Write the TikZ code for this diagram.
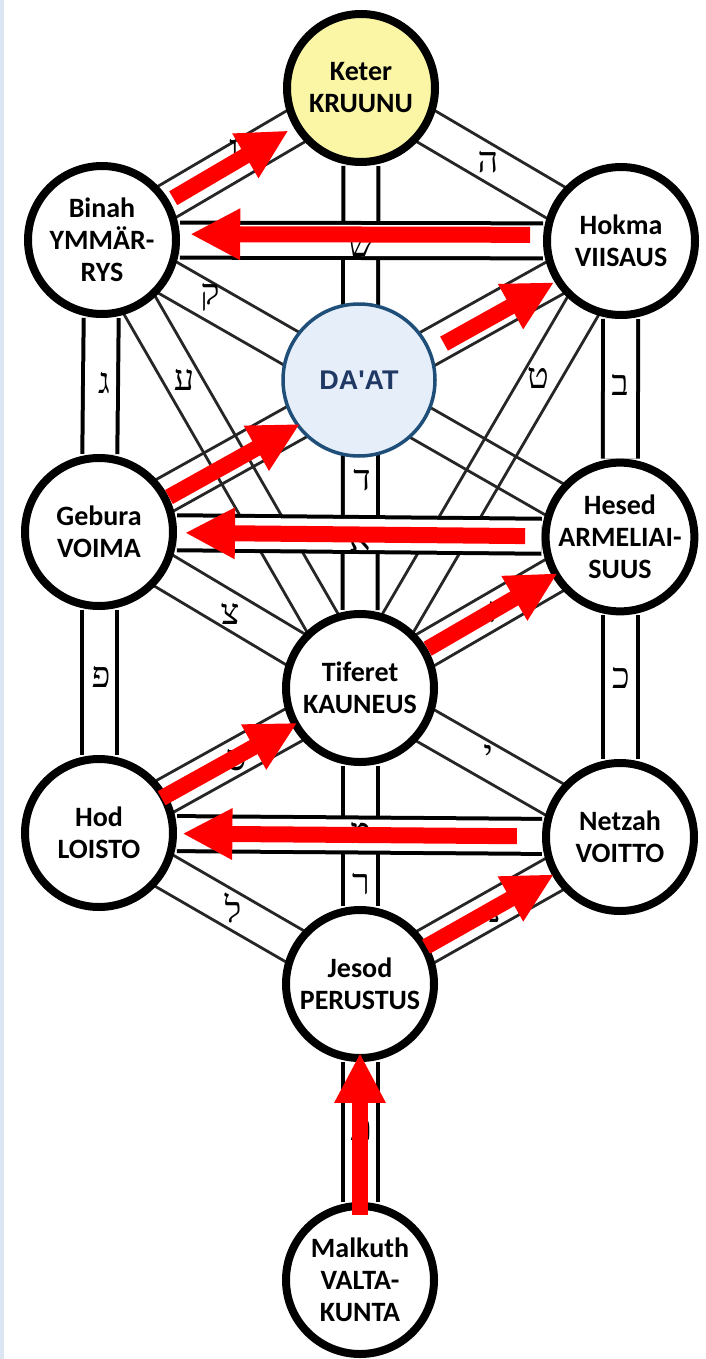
\documentclass[tikz,border=0pt]{standalone}
\usepackage{fontspec}
\setmainfont{Carlito}
\newfontfamily\hebfont[Script=Hebrew]{Liberation Serif}
\newfontfamily\daatfont{Liberation Sans}
\usetikzlibrary{arrows.meta,calc,backgrounds}

\definecolor{keteryellow}{HTML}{FAF6A6}
\definecolor{daatfill}{HTML}{E5EEF9}
\definecolor{daatline}{HTML}{1F4E79}
\definecolor{daattext}{HTML}{203864}
\definecolor{stripblue}{HTML}{DCE6F2}

\begin{document}
\begin{tikzpicture}[x=1pt,y=-1pt,
    sephira/.style={draw,circle,line width=8pt,fill=white,minimum size=148pt,inner sep=0pt,align=center,font=\fontsize{28}{32}\selectfont\bfseries},
    daat/.style={draw=daatline,circle,line width=3.5pt,fill=daatfill,minimum size=152pt,inner sep=0pt,text=daattext,font=\daatfont\fontsize{27}{30}\selectfont\bfseries},
    letter/.style={inner sep=0pt,font=\hebfont\fontsize{36}{36}\selectfont},
    pline/.style={line width=2.8pt,black!85},
    band/.style={double=white,double distance=31pt,line width=4pt},
    redarrow/.style={red,line width=16pt,-{Triangle[length=50pt,width=48pt]}}]

    \useasboundingbox (0,0) rectangle (706,1359);
    \fill[stripblue] (0,0) rectangle (4,1359);

    % Nodes
    \node[sephira,fill=keteryellow] (keter) at (361,88) {Keter\\KRUUNU};
    \node[sephira] (binah) at (102,240) {Binah\\YMMÄR-\\RYS};
    \node[sephira] (hokma) at (621,241) {Hokma\\VIISAUS};
    \node[daat] (daat) at (359,380) {DA'AT};
    \node[sephira] (gebura) at (99,532) {Gebura\\VOIMA};
    \node[sephira] (hesed) at (620,537) {Hesed\\ARMELIAI-\\SUUS};
    \node[sephira] (tiferet) at (360,688) {Tiferet\\KAUNEUS};
    \node[sephira] (hod) at (99,833) {Hod\\LOISTO};
    \node[sephira] (netzah) at (620,837) {Netzah\\VOITTO};
    \node[sephira] (jesod) at (360,984) {Jesod\\PERUSTUS};
    \node[sephira] (malkuth) at (360,1280) {Malkuth\\VALTA-\\KUNTA};

    % Paths
    \begin{scope}[on background layer]
    \foreach \a/\b in {keter/binah,keter/hokma,binah/hesed,hokma/gebura,binah/tiferet,hokma/tiferet,
        gebura/tiferet,hesed/tiferet,hod/tiferet,netzah/tiferet,hod/jesod,netzah/jesod}
        \draw[pline] ($(\a)!18pt!90:(\b)$) -- ($(\b)!18pt!-90:(\a)$)
                     ($(\a)!18pt!-90:(\b)$) -- ($(\b)!18pt!90:(\a)$);

    \draw[band] (binah) -- (gebura);
    \draw[band] (gebura) -- (hod);
    \draw[band] (hokma) -- (hesed);
    \draw[band] (hesed) -- (netzah);
    \draw[band] (keter) -- (tiferet);
    \draw[band] (tiferet) -- (jesod);
    \draw[band] (jesod) -- (malkuth);

    \draw[band] (binah) -- (hokma);
    \draw[band] (gebura) -- (hesed);
    \draw[band] (hod) -- (netzah);

    % Letters
    \node[letter] (he) at (488,162) {ה};
    \node[letter] (vav) at (234,150) {ו};
    \node[letter] (shin) at (361,246) {ש};
    \node[letter] (qof) at (210,297) {ק};
    \node[letter] (gimel) at (104,383) {ג};
    \node[letter] (ayin) at (184,380) {ע};
    \node[letter] (tet) at (538,378) {ט};
    \node[letter] (bet) at (620,385) {ב};
    \node[letter] (dalet) at (362,480) {ד};
    \node[letter] (alef) at (360,540) {א};
    \node[letter] (tsadi) at (230,614) {צ};
    \node[letter] (zayin) at (493,612) {ז};
    \node[letter] (pe) at (101,677) {פ};
    \node[letter] (kaf) at (621,678) {כ};
    \node[letter] (samekh) at (236,760) {ס};
    \node[letter] (yod) at (488,755) {י};
    \node[letter] (mem) at (361,833) {מ};
    \node[letter] (resh) at (361,884) {ר};
    \node[letter] (lamed) at (233,908) {ל};
    \node[letter] (nun) at (495,912) {נ};
    \node[letter] (tav) at (361,1130) {ת};
    \end{scope}

    % Arrows
    \draw[redarrow] ($(binah)!.275!(keter)$) -- ($(binah)!.72!(keter)$);
    \draw[redarrow] ($(hokma)!.175!(binah)+(0,-6)$) -- ($(hokma)!.83!(binah)+(0,-6)$);
    \draw[redarrow] ($(gebura)!.134!(hokma)+(0,4)$) -- ($(gebura)!.385!(hokma)+(0,4)$);
    \draw[redarrow] ($(gebura)!.661!(hokma)+(0,4)$) -- ($(gebura)!.872!(hokma)+(0,4)$);
    \draw[redarrow] ($(hesed)!.182!(gebura)$) -- ($(hesed)!.835!(gebura)$);
    \draw[redarrow] ($(tiferet)!.26!(hesed)$) -- ($(tiferet)!.76!(hesed)$);
    \draw[redarrow] ($(hod)!.24!(tiferet)$) -- ($(hod)!.76!(tiferet)$);
    \draw[redarrow] ($(netzah)!.198!(hod)$) -- ($(netzah)!.84!(hod)$);
    \draw[redarrow] ($(jesod)!.254!(netzah)$) -- ($(jesod)!.746!(netzah)$);
    \draw[redarrow] ($(malkuth)!.22!(jesod)$) -- ($(malkuth)!.767!(jesod)$);

\end{tikzpicture}
\end{document}
